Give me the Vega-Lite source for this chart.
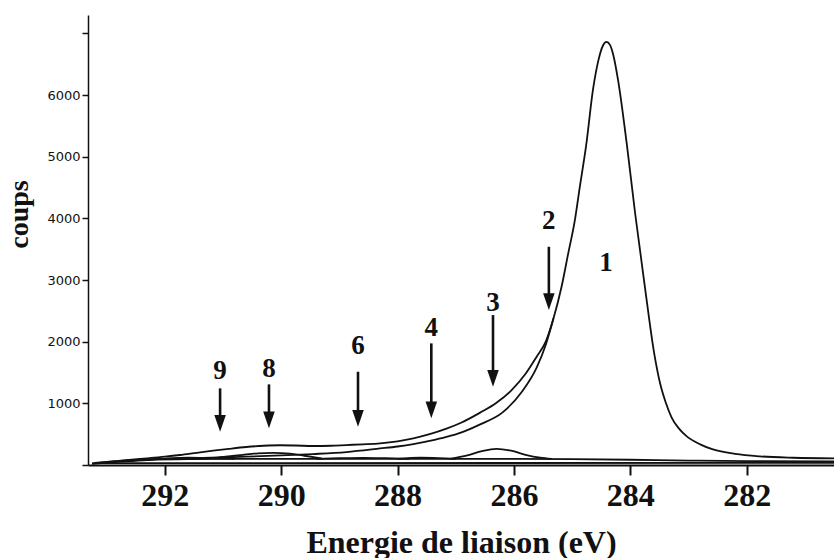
{
  "$schema": "https://vega.github.io/schema/vega-lite/v6.json",
  "width": 746,
  "height": 450,
  "autosize": {"type": "none"},
  "padding": {"left": 88, "top": 15, "right": 0, "bottom": 93},
  "background": "white",
  "config": {"view": {"stroke": null}},
  "datasets": {
    "courbes": [
      {"serie": "enveloppe", "E": 293.25, "C": 25},
      {"serie": "enveloppe", "E": 293.0, "C": 48},
      {"serie": "enveloppe", "E": 292.66, "C": 80},
      {"serie": "enveloppe", "E": 292.31, "C": 108},
      {"serie": "enveloppe", "E": 292.0, "C": 135},
      {"serie": "enveloppe", "E": 291.74, "C": 162},
      {"serie": "enveloppe", "E": 291.45, "C": 198},
      {"serie": "enveloppe", "E": 291.17, "C": 232},
      {"serie": "enveloppe", "E": 290.9, "C": 262},
      {"serie": "enveloppe", "E": 290.6, "C": 292},
      {"serie": "enveloppe", "E": 290.3, "C": 312},
      {"serie": "enveloppe", "E": 290.02, "C": 320},
      {"serie": "enveloppe", "E": 289.75, "C": 316},
      {"serie": "enveloppe", "E": 289.45, "C": 308},
      {"serie": "enveloppe", "E": 289.15, "C": 312},
      {"serie": "enveloppe", "E": 288.88, "C": 324},
      {"serie": "enveloppe", "E": 288.6, "C": 336},
      {"serie": "enveloppe", "E": 288.3, "C": 352},
      {"serie": "enveloppe", "E": 288.0, "C": 385},
      {"serie": "enveloppe", "E": 287.73, "C": 432},
      {"serie": "enveloppe", "E": 287.45, "C": 500},
      {"serie": "enveloppe", "E": 287.16, "C": 590},
      {"serie": "enveloppe", "E": 286.9, "C": 690},
      {"serie": "enveloppe", "E": 286.58, "C": 850},
      {"serie": "enveloppe", "E": 286.3, "C": 1010},
      {"serie": "enveloppe", "E": 286.04, "C": 1216},
      {"serie": "enveloppe", "E": 285.8, "C": 1480},
      {"serie": "enveloppe", "E": 285.61, "C": 1757},
      {"serie": "enveloppe", "E": 285.45, "C": 2010},
      {"serie": "enveloppe", "E": 285.32, "C": 2380},
      {"serie": "enveloppe", "E": 285.18, "C": 2900},
      {"serie": "enveloppe", "E": 285.07, "C": 3420},
      {"serie": "enveloppe", "E": 284.95, "C": 3990},
      {"serie": "enveloppe", "E": 284.87, "C": 4500},
      {"serie": "enveloppe", "E": 284.76, "C": 5180},
      {"serie": "enveloppe", "E": 284.64, "C": 6100},
      {"serie": "enveloppe", "E": 284.55, "C": 6560},
      {"serie": "enveloppe", "E": 284.47, "C": 6805},
      {"serie": "enveloppe", "E": 284.41, "C": 6864},
      {"serie": "enveloppe", "E": 284.35, "C": 6815},
      {"serie": "enveloppe", "E": 284.29, "C": 6640},
      {"serie": "enveloppe", "E": 284.21, "C": 6240},
      {"serie": "enveloppe", "E": 284.06, "C": 5200},
      {"serie": "enveloppe", "E": 283.92, "C": 4100},
      {"serie": "enveloppe", "E": 283.75, "C": 2890},
      {"serie": "enveloppe", "E": 283.59, "C": 1811},
      {"serie": "enveloppe", "E": 283.49, "C": 1330},
      {"serie": "enveloppe", "E": 283.39, "C": 1010},
      {"serie": "enveloppe", "E": 283.29, "C": 770},
      {"serie": "enveloppe", "E": 283.16, "C": 585},
      {"serie": "enveloppe", "E": 283.03, "C": 465},
      {"serie": "enveloppe", "E": 282.8, "C": 335},
      {"serie": "enveloppe", "E": 282.58, "C": 252},
      {"serie": "enveloppe", "E": 282.2, "C": 180},
      {"serie": "enveloppe", "E": 281.77, "C": 140},
      {"serie": "enveloppe", "E": 281.2, "C": 118},
      {"serie": "enveloppe", "E": 280.5, "C": 108},

      {"serie": "c1", "E": 285.32, "C": 2380},
      {"serie": "c1", "E": 285.45, "C": 1960},
      {"serie": "c1", "E": 285.61, "C": 1580},
      {"serie": "c1", "E": 285.87, "C": 1180},
      {"serie": "c1", "E": 286.2, "C": 850},
      {"serie": "c1", "E": 286.58, "C": 660},
      {"serie": "c1", "E": 286.9, "C": 530},
      {"serie": "c1", "E": 287.16, "C": 455},
      {"serie": "c1", "E": 287.45, "C": 390},
      {"serie": "c1", "E": 287.73, "C": 338},
      {"serie": "c1", "E": 288.0, "C": 300},
      {"serie": "c1", "E": 288.3, "C": 268},
      {"serie": "c1", "E": 288.88, "C": 210},
      {"serie": "c1", "E": 289.45, "C": 178},
      {"serie": "c1", "E": 290.0, "C": 155},
      {"serie": "c1", "E": 290.6, "C": 135},
      {"serie": "c1", "E": 291.2, "C": 118},
      {"serie": "c1", "E": 292.1, "C": 95},
      {"serie": "c1", "E": 292.7, "C": 70},
      {"serie": "c1", "E": 293.2, "C": 35},

      {"serie": "fond", "E": 293.25, "C": 20},
      {"serie": "fond", "E": 292.8, "C": 50},
      {"serie": "fond", "E": 292.3, "C": 80},
      {"serie": "fond", "E": 291.6, "C": 95},
      {"serie": "fond", "E": 290.5, "C": 100},
      {"serie": "fond", "E": 289.0, "C": 100},
      {"serie": "fond", "E": 287.5, "C": 100},
      {"serie": "fond", "E": 286.0, "C": 100},
      {"serie": "fond", "E": 285.0, "C": 95},
      {"serie": "fond", "E": 284.0, "C": 85},
      {"serie": "fond", "E": 283.0, "C": 72},
      {"serie": "fond", "E": 282.0, "C": 62},
      {"serie": "fond", "E": 280.5, "C": 58},

      {"serie": "base", "E": 293.1, "C": 30},
      {"serie": "base", "E": 280.5, "C": 35},

      {"serie": "c3", "E": 287.1, "C": 100},
      {"serie": "c3", "E": 286.8, "C": 155},
      {"serie": "c3", "E": 286.55, "C": 225},
      {"serie": "c3", "E": 286.3, "C": 262},
      {"serie": "c3", "E": 286.05, "C": 232},
      {"serie": "c3", "E": 285.8, "C": 165},
      {"serie": "c3", "E": 285.55, "C": 118},
      {"serie": "c3", "E": 285.35, "C": 98},

      {"serie": "c4", "E": 288.0, "C": 100},
      {"serie": "c4", "E": 287.6, "C": 118},
      {"serie": "c4", "E": 287.3, "C": 112},
      {"serie": "c4", "E": 287.0, "C": 100},

      {"serie": "c6", "E": 289.4, "C": 100},
      {"serie": "c6", "E": 289.0, "C": 110},
      {"serie": "c6", "E": 288.6, "C": 116},
      {"serie": "c6", "E": 288.2, "C": 110},
      {"serie": "c6", "E": 287.8, "C": 100},

      {"serie": "c8", "E": 291.5, "C": 97},
      {"serie": "c8", "E": 291.1, "C": 120},
      {"serie": "c8", "E": 290.7, "C": 160},
      {"serie": "c8", "E": 290.4, "C": 190},
      {"serie": "c8", "E": 290.14, "C": 198},
      {"serie": "c8", "E": 289.85, "C": 186},
      {"serie": "c8", "E": 289.6, "C": 150},
      {"serie": "c8", "E": 289.3, "C": 105},

      {"serie": "c9", "E": 292.4, "C": 82},
      {"serie": "c9", "E": 292.0, "C": 105},
      {"serie": "c9", "E": 291.6, "C": 118},
      {"serie": "c9", "E": 291.2, "C": 110},
      {"serie": "c9", "E": 290.8, "C": 98}
    ],
    "fleches": [
      {"num": "9", "E": 291.05, "haut": 1243, "fin": 670, "pointe": 540},
      {"num": "8", "E": 290.21, "haut": 1308, "fin": 725, "pointe": 595},
      {"num": "6", "E": 288.68, "haut": 1513, "fin": 750, "pointe": 621},
      {"num": "4", "E": 287.42, "haut": 1973, "fin": 890, "pointe": 757},
      {"num": "3", "E": 286.36, "haut": 2432, "fin": 1400, "pointe": 1270},
      {"num": "2", "E": 285.40, "haut": 3540, "fin": 2640, "pointe": 2513}
    ],
    "etiquettes": [
      {"num": "9", "E": 291.05, "C": 1527},
      {"num": "8", "E": 290.21, "C": 1560},
      {"num": "6", "E": 288.68, "C": 1933},
      {"num": "4", "E": 287.42, "C": 2216},
      {"num": "3", "E": 286.36, "C": 2635},
      {"num": "2", "E": 285.40, "C": 3960},
      {"num": "1", "E": 284.42, "C": 3284}
    ]
  },
  "encoding": {
    "x": {
      "field": "E", "type": "quantitative", "title": "Energie de liaison (eV)",
      "scale": {"domain": [280.5, 293.32], "reverse": true, "nice": false, "zero": false},
      "axis": {
        "values": [282, 284, 286, 288, 290, 292], "format": "d",
        "grid": false,
        "domainColor": "#111", "domainWidth": 2,
        "tickColor": "#111", "tickWidth": 2, "tickSize": 10,
        "labelFont": "Liberation Serif", "labelFontWeight": "bold", "labelFontSize": 32,
        "labelColor": "#111", "labelPadding": 5, "labelFlush": false, "labelOverlap": false,
        "titleFont": "Liberation Serif", "titleFontWeight": "bold", "titleFontSize": 32,
        "titleColor": "#111", "titleBaseline": "alphabetic", "titleY": 87
      }
    },
    "y": {
      "field": "C", "type": "quantitative", "title": "coups",
      "scale": {"domain": [0, 7300], "nice": false, "zero": false},
      "axis": {
        "values": [0, 1000, 2000, 3000, 4000, 5000, 6000, 7000], "format": "d",
        "labelExpr": "datum.value == 0 || datum.value == 7000 ? '' : datum.label",
        "grid": false,
        "domainColor": "#111", "domainWidth": 1.5,
        "tickColor": "#111", "tickWidth": 1.5, "tickSize": 6,
        "labelFont": "DejaVu Sans", "labelFontSize": 13, "labelColor": "#111", "labelPadding": 2,
        "titleFont": "Liberation Serif", "titleFontWeight": "bold", "titleFontSize": 28,
        "titleColor": "#111", "titleAngle": 270, "titleAlign": "center",
        "titleBaseline": "alphabetic", "titleX": -61, "titleY": 199
      }
    }
  },
  "layer": [
    {
      "data": {"name": "courbes"},
      "mark": {"type": "line", "interpolate": "monotone", "color": "#111", "strokeWidth": 1.8, "clip": true},
      "encoding": {
        "detail": {"field": "serie", "type": "nominal"}
      }
    },
    {
      "data": {"name": "fleches"},
      "mark": {"type": "rule", "color": "#111", "strokeWidth": 2.6},
      "encoding": {
        "y": {"field": "haut", "type": "quantitative", "title": "coups", "scale": {"domain": [0, 7300], "nice": false, "zero": false}},
        "y2": {"field": "fin"}
      }
    },
    {
      "data": {"name": "fleches"},
      "mark": {"type": "point", "shape": "M-0.69,-2L0.69,-2L0,0Z", "filled": true, "color": "#111", "opacity": 1, "size": 280, "strokeWidth": 0},
      "encoding": {
        "y": {"field": "pointe", "type": "quantitative", "title": "coups", "scale": {"domain": [0, 7300], "nice": false, "zero": false}}
      }
    },
    {
      "data": {"name": "etiquettes"},
      "mark": {"type": "text", "font": "Liberation Serif", "fontWeight": "bold", "fontSize": 27, "color": "#111", "align": "center", "baseline": "middle"},
      "encoding": {
        "text": {"field": "num", "type": "nominal"}
      }
    }
  ]
}
